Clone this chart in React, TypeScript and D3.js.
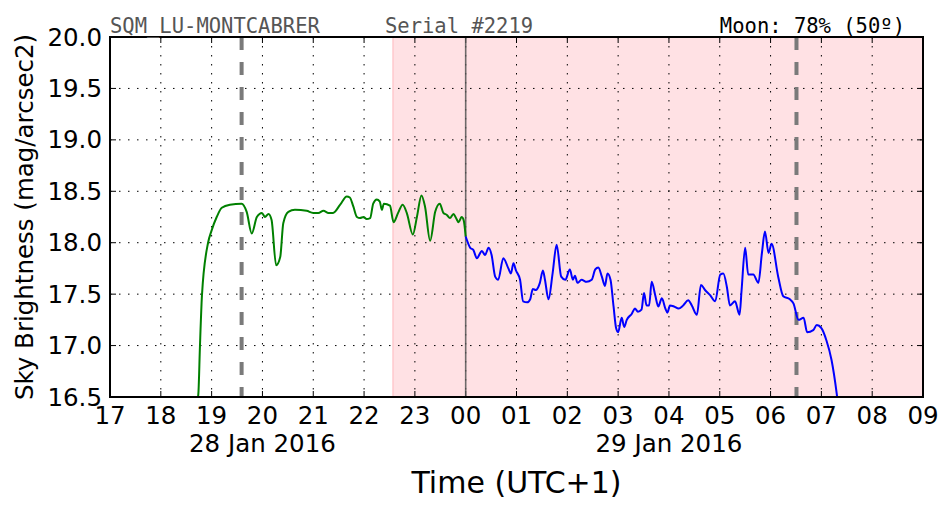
import React, { useEffect, useRef } from 'react';
import * as d3 from 'd3';

// hours counted from 28 Jan 2016 00:00 (UTC+1)
const eveningHours = [18.70, 18.74, 18.77, 18.81, 18.93, 19.00, 19.10, 19.20, 19.36, 19.59, 19.69, 19.79, 19.89, 19.99, 20.05, 20.12, 20.18, 20.27, 20.35, 20.41, 20.51, 20.64, 20.87, 21.00, 21.10, 21.20, 21.30, 21.39, 21.53, 21.66, 21.72, 21.79, 21.86, 21.92, 21.99, 22.05, 22.12, 22.18, 22.25, 22.31, 22.35, 22.39, 22.51, 22.58, 22.67, 22.76, 22.84, 22.96, 23.04, 23.13, 23.20, 23.30, 23.40, 23.49, 23.56, 23.63, 23.69, 23.76, 23.81, 23.86, 23.92, 23.96, 24.00];
const eveningMag = [16.40, 16.54, 16.99, 17.49, 18.00, 18.12, 18.25, 18.34, 18.37, 18.38, 18.30, 18.09, 18.25, 18.29, 18.25, 18.28, 18.22, 17.78, 17.86, 18.19, 18.30, 18.32, 18.31, 18.29, 18.29, 18.31, 18.29, 18.29, 18.37, 18.45, 18.44, 18.35, 18.25, 18.24, 18.25, 18.23, 18.24, 18.38, 18.42, 18.40, 18.32, 18.38, 18.36, 18.20, 18.29, 18.37, 18.29, 18.08, 18.25, 18.46, 18.35, 18.02, 18.30, 18.38, 18.29, 18.27, 18.24, 18.28, 18.24, 18.20, 18.25, 18.22, 18.06];

const nightHours = [24.00, 24.09, 24.15, 24.22, 24.32, 24.38, 24.45, 24.51, 24.58, 24.64, 24.74, 24.84, 24.89, 24.94, 24.99, 25.07, 25.13, 25.21, 25.27, 25.32, 25.38, 25.46, 25.52, 25.56, 25.63, 25.71, 25.79, 25.88, 25.96, 26.05, 26.11, 26.15, 26.20, 26.28, 26.38, 26.48, 26.55, 26.61, 26.68, 26.74, 26.79, 26.85, 26.91, 26.96, 27.00, 27.07, 27.12, 27.17, 27.27, 27.33, 27.39, 27.46, 27.51, 27.56, 27.61, 27.66, 27.73, 27.79, 27.86, 27.93, 27.97, 28.02, 28.10, 28.19, 28.28, 28.38, 28.45, 28.55, 28.63, 28.71, 28.81, 28.91, 29.01, 29.07, 29.14, 29.20, 29.30, 29.39, 29.43, 29.50, 29.56, 29.66, 29.76, 29.83, 29.89, 29.96, 30.02, 30.15, 30.25, 30.38, 30.45, 30.55, 30.65, 30.72, 30.84, 30.91, 31.00, 31.10, 31.20, 31.30, 31.33];
const nightMag = [18.06, 17.95, 17.93, 17.85, 17.92, 17.88, 17.95, 17.88, 17.67, 17.64, 17.85, 17.75, 17.70, 17.80, 17.73, 17.64, 17.43, 17.42, 17.45, 17.55, 17.54, 17.61, 17.73, 17.64, 17.45, 17.70, 17.98, 17.67, 17.64, 17.74, 17.64, 17.68, 17.61, 17.64, 17.62, 17.64, 17.74, 17.76, 17.67, 17.58, 17.70, 17.64, 17.38, 17.17, 17.13, 17.27, 17.18, 17.25, 17.31, 17.36, 17.33, 17.35, 17.51, 17.39, 17.39, 17.62, 17.49, 17.38, 17.46, 17.36, 17.32, 17.39, 17.38, 17.36, 17.39, 17.44, 17.39, 17.30, 17.59, 17.54, 17.49, 17.43, 17.69, 17.70, 17.57, 17.39, 17.43, 17.30, 17.54, 17.95, 17.69, 17.69, 17.61, 17.90, 18.11, 17.90, 17.99, 17.67, 17.48, 17.45, 17.41, 17.25, 17.27, 17.13, 17.15, 17.20, 17.17, 17.05, 16.86, 16.54, 16.42];

const yTicks = [16.5, 17.0, 17.5, 18.0, 18.5, 19.0, 19.5, 20.0];
const sunMoonHours = [19.59, 30.51]; // dashed markers
const midnightHour = 24;
const twilightStart = 22.57; // shaded from here to the end
const dateLabels = [
  { hour: 20, text: '28 Jan 2016' },
  { hour: 28, text: '29 Jan 2016' },
];
const titleLeft = 'SQM_LU-MONTCABRER';
const titleMid = 'Serial #2219';
const titleRight = 'Moon: 78% (50º)';

const base = new Date(2016, 0, 28, 0, 0, 0).getTime();
const toDate = (h: number) => new Date(base + h * 3600 * 1000);

export default function App() {
  const svgRef = useRef<SVGSVGElement>(null);

  useEffect(() => {
    const width = 952;
    const height = 512;
    const margin = { top: 37, right: 29, bottom: 115, left: 110 };
    const w = width - margin.left - margin.right;
    const h = height - margin.top - margin.bottom;
    const sans = 'DejaVu Sans, sans-serif';
    const mono = 'DejaVu Sans Mono, monospace';

    const svg = d3.select(svgRef.current).attr('width', width).attr('height', height);
    svg.selectAll('*').remove();
    svg.append('rect').attr('width', width).attr('height', height).attr('fill', '#fff');

    const x = d3.scaleTime().domain([toDate(17), toDate(33)]).range([0, w]);
    const y = d3.scaleLinear().domain([16.5, 20]).range([h, 0]);
    const hourTicks = d3.range(17, 34).map(toDate);

    const g = svg.append('g').attr('transform', `translate(${margin.left},${margin.top})`);

    g.append('clipPath').attr('id', 'plot-clip')
      .append('rect').attr('width', w).attr('height', h);

    // shaded part of the night
    g.append('rect')
      .attr('x', x(toDate(twilightStart)))
      .attr('y', 0)
      .attr('width', w - x(toDate(twilightStart)))
      .attr('height', h)
      .attr('fill', '#ffe1e4')
      .attr('stroke', '#ffc9cd')
      .attr('stroke-width', 1.5);

    // grid
    g.append('g').selectAll('line').data(hourTicks).join('line')
      .attr('x1', (d) => x(d)).attr('x2', (d) => x(d))
      .attr('y1', 0).attr('y2', h)
      .attr('stroke', '#000').attr('stroke-width', 1).attr('stroke-dasharray', '1.5,7.5');
    g.append('g').selectAll('line').data(yTicks).join('line')
      .attr('x1', 0).attr('x2', w)
      .attr('y1', (d) => y(d)).attr('y2', (d) => y(d))
      .attr('stroke', '#000').attr('stroke-width', 1).attr('stroke-dasharray', '1.5,7.5');

    // inward ticks on all four sides
    const tickLen = 6;
    const ticks = g.append('g').attr('stroke', '#000').attr('stroke-width', 1);
    hourTicks.forEach((d) => {
      ticks.append('line').attr('x1', x(d)).attr('x2', x(d)).attr('y1', h).attr('y2', h - tickLen);
      ticks.append('line').attr('x1', x(d)).attr('x2', x(d)).attr('y1', 0).attr('y2', tickLen);
    });
    yTicks.forEach((d) => {
      ticks.append('line').attr('x1', 0).attr('x2', tickLen).attr('y1', y(d)).attr('y2', y(d));
      ticks.append('line').attr('x1', w).attr('x2', w - tickLen).attr('y1', y(d)).attr('y2', y(d));
    });

    // midnight line
    g.append('line')
      .attr('x1', x(toDate(midnightHour))).attr('x2', x(toDate(midnightHour)))
      .attr('y1', 0).attr('y2', h)
      .attr('stroke', '#555').attr('stroke-opacity', 0.85).attr('stroke-width', 1.6);

    // dashed markers
    g.append('g').selectAll('line').data(sunMoonHours).join('line')
      .attr('x1', (d) => x(toDate(d))).attr('x2', (d) => x(toDate(d)))
      .attr('y1', 0).attr('y2', h)
      .attr('stroke', '#7a7a7a').attr('stroke-width', 4).attr('stroke-dasharray', '13,12');

    const line = d3.line<[number, number]>()
      .curve(d3.curveMonotoneX)
      .x((d) => x(toDate(d[0])))
      .y((d) => y(d[1]));

    const evening = eveningHours.map((hr, i) => [hr, eveningMag[i]] as [number, number]);
    const night = nightHours.map((hr, i) => [hr, nightMag[i]] as [number, number]);

    const curves = g.append('g').attr('clip-path', 'url(#plot-clip)');
    curves.append('path').datum(evening).attr('d', line)
      .attr('fill', 'none').attr('stroke', '#008000').attr('stroke-width', 2).attr('stroke-linejoin', 'round');
    curves.append('path').datum(night).attr('d', line)
      .attr('fill', 'none').attr('stroke', '#0000ff').attr('stroke-width', 2).attr('stroke-linejoin', 'round');

    // frame
    g.append('rect').attr('width', w).attr('height', h)
      .attr('fill', 'none').attr('stroke', '#000').attr('stroke-width', 2);

    // tick labels
    const fmt = d3.timeFormat('%H');
    g.append('g').selectAll('text').data(hourTicks).join('text')
      .attr('x', (d) => x(d)).attr('y', h + 27)
      .attr('text-anchor', 'middle')
      .attr('font-family', sans).attr('font-size', 24.5)
      .text((d) => fmt(d));
    g.append('g').selectAll('text').data(yTicks).join('text')
      .attr('x', -8).attr('y', (d) => y(d) + 8.5)
      .attr('text-anchor', 'end')
      .attr('font-family', sans).attr('font-size', 24.5)
      .text((d) => d.toFixed(1));
    g.append('g').selectAll('text').data(dateLabels).join('text')
      .attr('x', (d) => x(toDate(d.hour))).attr('y', h + 55)
      .attr('text-anchor', 'middle')
      .attr('font-family', sans).attr('font-size', 24.5)
      .text((d) => d.text);

    // axis titles
    g.append('text')
      .attr('x', w / 2).attr('y', h + 96)
      .attr('text-anchor', 'middle')
      .attr('font-family', sans).attr('font-size', 30)
      .text('Time (UTC+1)');
    svg.append('text')
      .attr('transform', `translate(33,${margin.top + h / 2}) rotate(-90)`)
      .attr('text-anchor', 'middle')
      .attr('font-family', sans).attr('font-size', 24.5)
      .text('Sky Brightness (mag/arcsec2)');

    // header
    svg.append('text').attr('x', 110).attr('y', 32.5)
      .attr('font-family', mono).attr('font-size', 20.5).attr('fill', '#555')
      .text(titleLeft);
    svg.append('text').attr('x', 385).attr('y', 32.5)
      .attr('font-family', mono).attr('font-size', 20.5).attr('fill', '#555')
      .text(titleMid);
    svg.append('text').attr('x', 905).attr('y', 32.5)
      .attr('text-anchor', 'end')
      .attr('font-family', mono).attr('font-size', 20.5).attr('fill', '#000')
      .text(titleRight);
  }, []);

  return <svg ref={svgRef} style={{ position: 'absolute', left: 0, top: 0 }} />;
}
